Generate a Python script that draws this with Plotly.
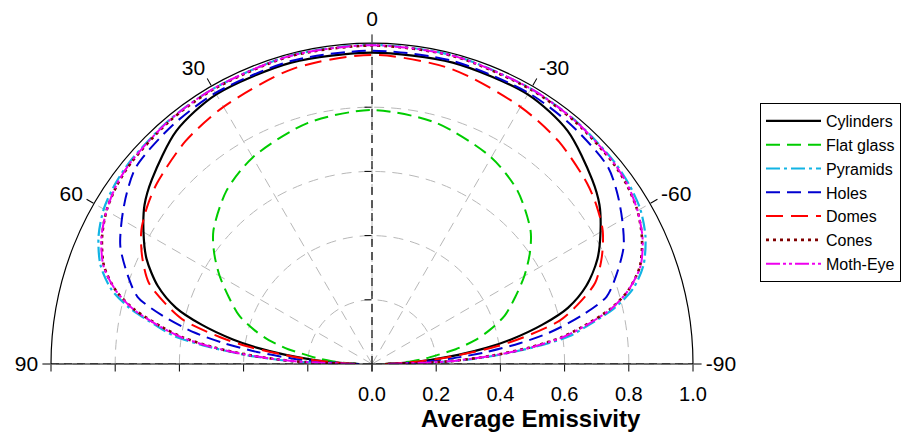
import plotly.graph_objects as go

# ---------------- data (emissivity vs. polar angle, degrees) ----------------
ANGLES = [0, 15, 30, 40, 50, 55, 60, 65, 70, 74, 77, 80, 82, 84, 86, 88, 90]

CYLINDERS  = [0.970, 0.972, 0.970, 0.948, 0.895, 0.865, 0.822, 0.775, 0.710, 0.635, 0.545, 0.440, 0.360, 0.270, 0.180, 0.100, 0.040]
FLAT_GLASS = [0.791, 0.777, 0.743, 0.705, 0.645, 0.600, 0.548, 0.492, 0.440, 0.380, 0.330, 0.265, 0.210, 0.170, 0.125, 0.080, 0.040]
PYRAMIDS   = [0.994, 0.994, 0.990, 0.988, 0.983, 0.977, 0.965, 0.940, 0.900, 0.845, 0.775, 0.680, 0.620, 0.510, 0.390, 0.250, 0.050]
HOLES      = [0.976, 0.977, 0.975, 0.969, 0.958, 0.932, 0.900, 0.865, 0.810, 0.760, 0.670, 0.560, 0.465, 0.360, 0.250, 0.140, 0.040]
DOMES      = [0.963, 0.952, 0.925, 0.905, 0.875, 0.855, 0.830, 0.790, 0.740, 0.665, 0.600, 0.480, 0.390, 0.280, 0.190, 0.100, 0.040]
CONES      = [0.992, 0.992, 0.988, 0.985, 0.978, 0.970, 0.955, 0.928, 0.888, 0.830, 0.762, 0.665, 0.595, 0.495, 0.375, 0.240, 0.050]
MOTH_EYE   = [0.993, 0.993, 0.990, 0.987, 0.980, 0.972, 0.955, 0.930, 0.890, 0.830, 0.765, 0.670, 0.600, 0.500, 0.380, 0.240, 0.050]

NAMES = ["Cylinders", "Flat glass", "Pyramids", "Holes", "Domes", "Cones", "Moth-Eye"]
VALUES = [CYLINDERS, FLAT_GLASS, PYRAMIDS, HOLES, DOMES, CONES, MOTH_EYE]
COLORS = ["#000000", "#00cc00", "#12b4e4", "#0000d0", "#ff0000", "#800000", "#ee00ee"]
DASHES = ["solid", "14px,7px", "14px,4px,3px,4px", "14px,7px", "17px,8px", "3px,4px",
          "14px,3px,3px,3px,3px,3px"]
WIDTHS = [2.2, 2, 2.2, 2, 2, 2.6, 2]

ANG_TICKS = [-90, -60, -30, 0, 30, 60, 90]
ANG_TEXT = ["-90", "-60", "-30", "0", "30", "60", "90"]
R_TICKS = [0.0, 0.2, 0.4, 0.6, 0.8, 1.0]
R_TEXT = ["0.0", "0.2", "0.4", "0.6", "0.8", "1.0"]

FONT = "Liberation Sans, Arial, sans-serif"

fig = go.Figure()

# black dashed axis lines (horizontal diameter and vertical 0-degree line)
fig.add_trace(go.Scatterpolar(r=[1, 0, 1], theta=[90, 90, -90], mode="lines",
                              line=dict(color="black", width=1.2, dash="8px,5px"),
                              showlegend=False, hoverinfo="skip"))
fig.add_trace(go.Scatterpolar(r=[0, 1], theta=[0, 0], mode="lines",
                              line=dict(color="black", width=1.2, dash="8px,5px"),
                              showlegend=False, hoverinfo="skip"))

for name, vals, col, dash, w in zip(NAMES, VALUES, COLORS, DASHES, WIDTHS):
    theta = [-a for a in reversed(ANGLES)] + ANGLES[1:]
    r = list(reversed(vals)) + vals[1:]
    fig.add_trace(go.Scatterpolar(r=r, theta=theta, mode="lines", name=name,
                                  line=dict(color=col, width=w, dash=dash, shape="spline", smoothing=0.8)))

# empty traces to host the auxiliary tick subplots
for sp in ["polar2", "polar3", "polar4"]:
    fig.add_trace(go.Scatterpolar(r=[], theta=[], subplot=sp, showlegend=False))

W, H = 909, 435
cx, cy, R = 372, 364, 321
dom_x = [(cx - R) / W, (cx + R) / W]
dom_y = [(H - cy) / H, (H - cy + R) / H]

aux_ang = dict(visible=False, rotation=90, direction="counterclockwise")


def tick_polar(angle, side, vals):
    return dict(
        domain=dict(x=dom_x, y=dom_y), sector=[0, 180], bgcolor="rgba(0,0,0,0)",
        radialaxis=dict(range=[0, 1], angle=angle, side=side,
                        tickmode="array", tickvals=vals, ticks="outside", ticklen=7,
                        tickcolor="black", showticklabels=False, showline=False, showgrid=False),
        angularaxis=aux_ang,
    )


fig.update_layout(
    width=W, height=H,
    margin=dict(l=0, r=0, t=0, b=0),
    paper_bgcolor="white",
    font=dict(family=FONT, size=19, color="black"),
    polar=dict(
        domain=dict(x=dom_x, y=dom_y),
        sector=[0, 180],
        bgcolor="rgba(0,0,0,0)",
        radialaxis=dict(range=[0, 1], angle=0, side="clockwise",
                        tickmode="array", tickvals=R_TICKS, ticktext=R_TEXT,
                        ticks="outside", ticklen=12, tickcolor="rgba(0,0,0,0)", tickwidth=1,
                        showline=False, showgrid=True, gridcolor="#b8b8b8",
                        griddash="10px,7px", gridwidth=1.2,
                        tickfont=dict(size=20, family=FONT)),
        angularaxis=dict(rotation=90, direction="counterclockwise",
                         tickmode="array", tickvals=ANG_TICKS, ticktext=ANG_TEXT,
                         ticks="outside", ticklen=8, tickcolor="black",
                         showline=True, linecolor="black", linewidth=1.2,
                         showgrid=True, gridcolor="#b8b8b8", griddash="10px,7px", gridwidth=1.2,
                         tickfont=dict(size=21, family=FONT)),
    ),
    polar2=tick_polar(180, "counterclockwise", R_TICKS),
    polar3=tick_polar(90, "counterclockwise", [0.2, 0.4, 0.6, 0.8]),
    polar4=tick_polar(0, "clockwise", R_TICKS),
    legend=dict(x=760 / W, y=1 - 103 / H, xanchor="left", yanchor="top",
                bordercolor="black", borderwidth=1, bgcolor="white",
                font=dict(size=16, family=FONT), itemwidth=55, tracegroupgap=0),
    annotations=[dict(text="<b>Average Emissivity</b>", x=531 / W, y=1 - 418 / H,
                      xref="paper", yref="paper", showarrow=False,
                      font=dict(size=24, family=FONT), xanchor="center", yanchor="middle")],
)

fig.write_html("out.html")
